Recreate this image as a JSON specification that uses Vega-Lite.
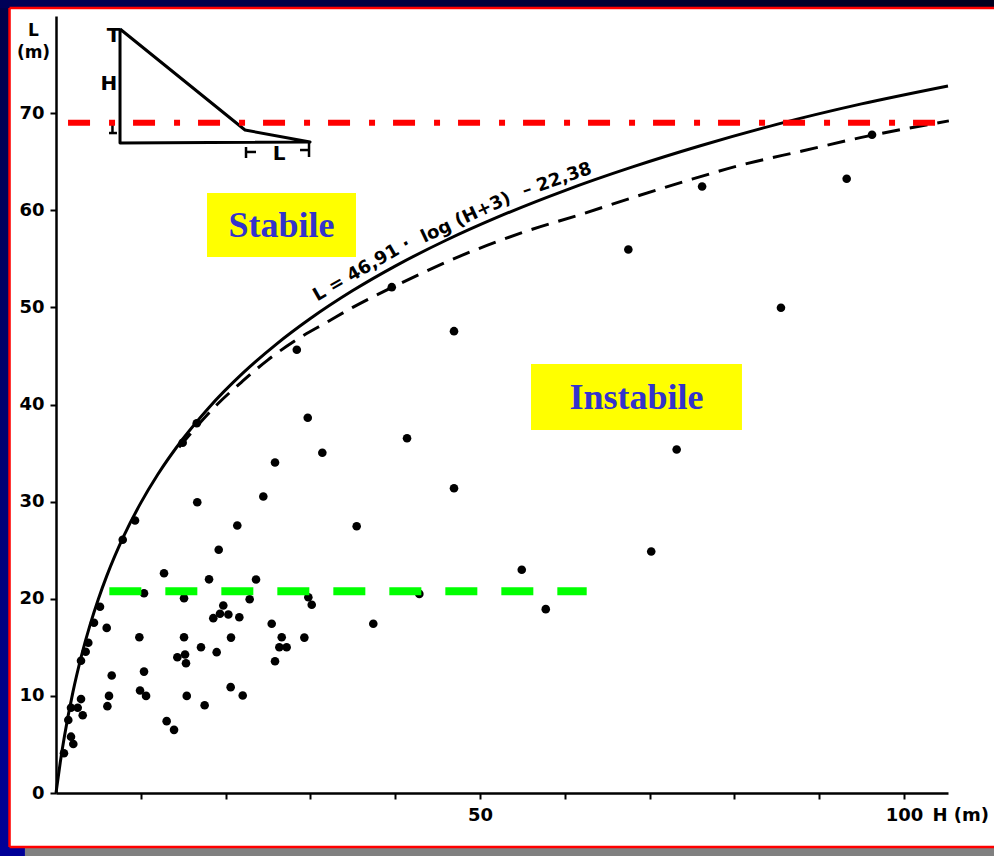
{
  "$schema": "https://vega.github.io/schema/vega-lite/v6.json",
  "width": 892,
  "height": 777,
  "autosize": "none",
  "padding": {"left": 56, "top": 16, "right": 46, "bottom": 63},
  "background": "white",
  "view": {"stroke": null},
  "config": {"font": "DejaVu Sans", "axis": {"grid": false}},
  "datasets": {
    "dots": [
      {"H":0.94,"L":4.09},{"H":1.77,"L":5.8},{"H":2.04,"L":5.05},{"H":1.45,"L":7.52},{"H":1.77,"L":8.78},
      {"H":2.56,"L":8.78},{"H":2.95,"L":9.67},{"H":3.15,"L":8.0},{"H":2.95,"L":13.62},{"H":3.5,"L":14.55},
      {"H":3.81,"L":15.47},{"H":4.48,"L":17.53},{"H":5.19,"L":19.18},{"H":5.98,"L":17.0},{"H":6.57,"L":12.1},
      {"H":6.25,"L":10.0},{"H":6.06,"L":8.94},{"H":7.87,"L":26.07},{"H":9.32,"L":28.06},{"H":10.38,"L":20.57},
      {"H":9.83,"L":16.04},{"H":10.38,"L":12.5},{"H":9.91,"L":10.55},{"H":10.62,"L":10.0},{"H":12.74,"L":22.63},
      {"H":13.05,"L":7.4},{"H":13.92,"L":6.5},{"H":14.31,"L":13.98},{"H":15.1,"L":20.06},{"H":15.1,"L":16.04},
      {"H":15.22,"L":14.26},{"H":15.33,"L":13.36},{"H":15.42,"L":10.0},{"H":16.66,"L":29.94},{"H":17.1,"L":15.0},
      {"H":17.53,"L":9.04},{"H":18.05,"L":22.0},{"H":18.55,"L":18.0},{"H":18.95,"L":14.5},{"H":19.19,"L":25.04},
      {"H":19.34,"L":18.45},{"H":19.73,"L":19.3},{"H":20.33,"L":18.38},{"H":20.64,"L":16.0},{"H":20.6,"L":10.9},
      {"H":21.38,"L":27.54},{"H":21.62,"L":18.1},{"H":22.02,"L":10.04},{"H":22.84,"L":19.95},{"H":23.59,"L":21.98},
      {"H":25.44,"L":17.42},{"H":25.83,"L":13.57},{"H":26.62,"L":16.04},{"H":26.34,"L":15.0},{"H":27.2,"L":15.0},
      {"H":29.29,"L":16.0},{"H":29.76,"L":20.16},{"H":30.16,"L":19.38},{"H":29.69,"L":38.63},{"H":31.41,"L":35.03},
      {"H":25.83,"L":34.03},{"H":24.45,"L":30.53},{"H":14.94,"L":36.06},{"H":16.6,"L":38.07},{"H":41.4,"L":36.53},
      {"H":46.94,"L":31.38},{"H":35.46,"L":27.47},{"H":54.93,"L":22.98},{"H":42.85,"L":20.5},{"H":57.76,"L":18.93},
      {"H":37.42,"L":17.42},{"H":39.6,"L":52.08},{"H":67.5,"L":55.96},{"H":46.94,"L":47.55},{"H":28.4,"L":45.63},
      {"H":76.2,"L":62.45},{"H":96.24,"L":67.77},{"H":93.25,"L":63.24},{"H":85.5,"L":49.96},{"H":73.2,"L":35.37},
      {"H":70.2,"L":24.86}
    ],
    "curve": [
      {"H":0,"L":0},{"H":0.5,"L":3.14},{"H":1,"L":5.86},{"H":2,"L":10.41},{"H":3,"L":14.12},{"H":4,"L":17.26},
      {"H":5,"L":19.98},{"H":6,"L":22.38},{"H":8,"L":26.47},{"H":10,"L":29.87},{"H":12,"L":32.79},{"H":15,"L":36.5},
      {"H":18,"L":39.65},{"H":22,"L":43.2},{"H":26,"L":46.22},{"H":30,"L":48.85},{"H":35,"L":51.73},{"H":40,"L":54.25},
      {"H":46,"L":56.91},{"H":52,"L":59.26},{"H":60,"L":62.03},{"H":68,"L":64.46},{"H":76,"L":66.64},{"H":85,"L":68.84},
      {"H":95,"L":70.95},{"H":105.2,"L":72.8}
    ],
    "dashed": [
      {"H":14.5,"L":35.6},{"H":19,"L":40.0},{"H":22,"L":42.4},{"H":25,"L":44.6},{"H":28.8,"L":46.9},{"H":32,"L":48.5},
      {"H":35,"L":50.0},{"H":40.7,"L":52.5},{"H":48,"L":55.4},{"H":55,"L":57.7},{"H":62,"L":59.6},{"H":68,"L":61.3},
      {"H":75,"L":63.2},{"H":81,"L":64.7},{"H":88,"L":66.1},{"H":95,"L":67.5},{"H":105.3,"L":69.2}
    ],
    "inset": [
      {"o":1,"H":7.55,"L":78.66},{"o":2,"H":22.29,"L":68.26},{"o":3,"H":29.96,"L":67.03},
      {"o":4,"H":7.55,"L":66.92},{"o":5,"H":7.55,"L":78.66}
    ],
    "insetTicks": [
      {"H":22.41,"H2":22.41,"L":66.51,"L2":65.38},
      {"H":22.41,"H2":23.59,"L":66.0,"L2":66.0},
      {"H":29.84,"H2":29.84,"L":67.03,"L2":65.48},
      {"H":28.78,"H2":29.84,"L":66.2,"L2":66.2},
      {"H":6.66,"H2":6.66,"L":68.98,"L2":67.95},
      {"H":6.25,"H2":7.19,"L":67.95,"L2":67.95},
      {"H":6.37,"H2":6.96,"L":68.98,"L2":68.98}
    ],
    "insetText": [
      {"t":"T","H":6.8,"L":77.95},
      {"t":"H","H":6.25,"L":72.95},
      {"t":"L","H":26.3,"L":65.84}
    ],
    "equation": [
      {"t":"L = 46,91 ·","H":36.1,"L":53.85},
      {"t":"log (H+3)","H":48.35,"L":59.2},
      {"t":"– 22,38","H":59.1,"L":63.1}
    ],
    "regions": [
      {"label":"Stabile","H":26.6,"L":58.4,"H1":17.81,"H2":35.38,"L1":55.19,"L2":61.78},
      {"label":"Instabile","H":68.46,"L":40.67,"H1":56.02,"H2":80.9,"L1":37.37,"L2":44.17}
    ]
  },
  "layer": [
    {
      "data": {"name": "dots"},
      "mark": {"type": "circle", "size": 74, "color": "black", "opacity": 1},
      "encoding": {
        "x": {
          "field": "H", "type": "quantitative",
          "scale": {"domain": [0, 105.2], "nice": false, "zero": false},
          "axis": {
            "values": [10, 20, 30, 40, 50, 60, 70, 80, 90, 100],
            "format": "d",
            "labelExpr": "datum.value == 50 || datum.value == 100 ? datum.label : ''",
            "grid": false, "zindex": 1,
            "domainColor": "black", "domainWidth": 2.5,
            "tickColor": "black", "tickWidth": 2, "tickSize": 6,
            "labelFont": "DejaVu Sans", "labelFontWeight": "bold", "labelFontSize": 18, "labelColor": "black", "labelPadding": 7,
            "title": "H (m)", "titleFont": "DejaVu Sans", "titleFontWeight": "bold", "titleFontSize": 18, "titleColor": "black",
            "titleX": 876, "titleY": 13, "titleAlign": "left", "titleBaseline": "top"
          }
        },
        "y": {
          "field": "L", "type": "quantitative",
          "scale": {"domain": [0, 80], "nice": false, "zero": false},
          "axis": {
            "values": [0, 10, 20, 30, 40, 50, 60, 70],
            "format": "d",
            "grid": false, "zindex": 1,
            "domainColor": "black", "domainWidth": 2.5,
            "tickColor": "black", "tickWidth": 2, "tickSize": 6,
            "labelFont": "DejaVu Sans", "labelFontWeight": "bold", "labelFontSize": 18, "labelColor": "black", "labelPadding": 6,
            "title": ["L", "(m)"], "titleFont": "DejaVu Sans", "titleFontWeight": "bold", "titleFontSize": 17, "titleColor": "black",
            "titleAngle": 0, "titleX": -23, "titleY": 19, "titleAlign": "center", "titleBaseline": "alphabetic", "titleLineHeight": 22
          }
        }
      }
    },
    {
      "data": {"values": [{}]},
      "mark": {"type": "rect", "fill": {"gradient": "linear", "x1": 0, "y1": 0, "x2": 1, "y2": 0, "stops": [{"offset": 0, "color": "#000058"}, {"offset": 1, "color": "#00001e"}]}},
      "encoding": {
        "x": {"datum": -8, "type": "quantitative", "scale": {"domain": [0, 105.2], "nice": false, "zero": false}},
        "x2": {"datum": 112},
        "y": {"datum": 80.82, "type": "quantitative", "scale": {"domain": [0, 80], "nice": false, "zero": false}},
        "y2": {"datum": 84}
      }
    },
    {
      "data": {"values": [{}]},
      "mark": {"type": "rect", "fill": {"gradient": "linear", "x1": 0, "y1": 0, "x2": 0, "y2": 1, "stops": [{"offset": 0, "color": "#00004a"}, {"offset": 1, "color": "#000098"}]}},
      "encoding": {
        "x": {"datum": -8, "type": "quantitative", "scale": {"domain": [0, 105.2], "nice": false, "zero": false}},
        "x2": {"datum": -5.48},
        "y": {"datum": -8, "type": "quantitative", "scale": {"domain": [0, 80], "nice": false, "zero": false}},
        "y2": {"datum": 80.82}
      }
    },
    {
      "data": {"values": [{}]},
      "mark": {"type": "rect", "fill": "#000098"},
      "encoding": {
        "x": {"datum": -8, "type": "quantitative", "scale": {"domain": [0, 105.2], "nice": false, "zero": false}},
        "x2": {"datum": -3.66},
        "y": {"datum": -8, "type": "quantitative", "scale": {"domain": [0, 80], "nice": false, "zero": false}},
        "y2": {"datum": -5.56}
      }
    },
    {
      "data": {"values": [{}]},
      "mark": {"type": "rect", "fill": "#808080"},
      "encoding": {
        "x": {"datum": -3.66, "type": "quantitative", "scale": {"domain": [0, 105.2], "nice": false, "zero": false}},
        "x2": {"datum": 112},
        "y": {"datum": -5.6, "type": "quantitative", "scale": {"domain": [0, 80], "nice": false, "zero": false}},
        "y2": {"datum": -8}
      }
    },
    {
      "data": {"values": [{}]},
      "mark": {"type": "rule", "color": "#ff0000", "strokeWidth": 2.5},
      "encoding": {
        "x": {"datum": -5.48, "type": "quantitative", "scale": {"domain": [0, 105.2], "nice": false, "zero": false}},
        "x2": {"datum": 112},
        "y": {"datum": 80.82, "type": "quantitative", "scale": {"domain": [0, 80], "nice": false, "zero": false}}
      }
    },
    {
      "data": {"values": [{}]},
      "mark": {"type": "rule", "color": "#ff0000", "strokeWidth": 2.5},
      "encoding": {
        "x": {"datum": -5.48, "type": "quantitative", "scale": {"domain": [0, 105.2], "nice": false, "zero": false}},
        "x2": {"datum": 112},
        "y": {"datum": -5.56, "type": "quantitative", "scale": {"domain": [0, 80], "nice": false, "zero": false}}
      }
    },
    {
      "data": {"values": [{}]},
      "mark": {"type": "rule", "color": "#ff0000", "strokeWidth": 2.5},
      "encoding": {
        "x": {"datum": -5.48, "type": "quantitative", "scale": {"domain": [0, 105.2], "nice": false, "zero": false}},
        "y": {"datum": -5.56, "type": "quantitative", "scale": {"domain": [0, 80], "nice": false, "zero": false}},
        "y2": {"datum": 80.82}
      }
    },
    {
      "data": {"name": "regions"},
      "mark": {"type": "rect", "fill": "#ffff00"},
      "encoding": {
        "x": {"field": "H1", "type": "quantitative", "scale": {"domain": [0, 105.2], "nice": false, "zero": false}},
        "x2": {"field": "H2"},
        "y": {"field": "L1", "type": "quantitative", "scale": {"domain": [0, 80], "nice": false, "zero": false}},
        "y2": {"field": "L2"}
      }
    },
    {
      "data": {"name": "regions"},
      "mark": {"type": "text", "font": "Liberation Serif", "fontWeight": "bold", "fontSize": 36, "color": "#3333cc", "align": "center", "baseline": "middle"},
      "encoding": {
        "x": {"field": "H", "type": "quantitative", "scale": {"domain": [0, 105.2], "nice": false, "zero": false}},
        "y": {"field": "L", "type": "quantitative", "scale": {"domain": [0, 80], "nice": false, "zero": false}},
        "text": {"field": "label"}
      }
    },
    {
      "data": {"name": "inset"},
      "mark": {"type": "line", "color": "black", "strokeWidth": 3, "strokeJoin": "round"},
      "encoding": {
        "x": {"field": "H", "type": "quantitative", "scale": {"domain": [0, 105.2], "nice": false, "zero": false}},
        "y": {"field": "L", "type": "quantitative", "scale": {"domain": [0, 80], "nice": false, "zero": false}},
        "order": {"field": "o"}
      }
    },
    {
      "data": {"name": "insetTicks"},
      "mark": {"type": "rule", "color": "black", "strokeWidth": 2.5},
      "encoding": {
        "x": {"field": "H", "type": "quantitative", "scale": {"domain": [0, 105.2], "nice": false, "zero": false}},
        "x2": {"field": "H2"},
        "y": {"field": "L", "type": "quantitative", "scale": {"domain": [0, 80], "nice": false, "zero": false}},
        "y2": {"field": "L2"}
      }
    },
    {
      "data": {"name": "insetText"},
      "mark": {"type": "text", "fontWeight": "bold", "fontSize": 20, "color": "black", "align": "center", "baseline": "middle"},
      "encoding": {
        "x": {"field": "H", "type": "quantitative", "scale": {"domain": [0, 105.2], "nice": false, "zero": false}},
        "y": {"field": "L", "type": "quantitative", "scale": {"domain": [0, 80], "nice": false, "zero": false}},
        "text": {"field": "t"}
      }
    },
    {
      "data": {"name": "equation"},
      "transform": [{"filter": "datum.t == 'L = 46,91 ·'"}],
      "mark": {"type": "text", "fontWeight": "bold", "fontSize": 18, "color": "black", "align": "center", "baseline": "middle", "angle": 330},
      "encoding": {
        "x": {"field": "H", "type": "quantitative", "scale": {"domain": [0, 105.2], "nice": false, "zero": false}},
        "y": {"field": "L", "type": "quantitative", "scale": {"domain": [0, 80], "nice": false, "zero": false}},
        "text": {"field": "t"}
      }
    },
    {
      "data": {"name": "equation"},
      "transform": [{"filter": "datum.t == 'log (H+3)'"}],
      "mark": {"type": "text", "fontWeight": "bold", "fontSize": 18, "color": "black", "align": "center", "baseline": "middle", "angle": 335},
      "encoding": {
        "x": {"field": "H", "type": "quantitative", "scale": {"domain": [0, 105.2], "nice": false, "zero": false}},
        "y": {"field": "L", "type": "quantitative", "scale": {"domain": [0, 80], "nice": false, "zero": false}},
        "text": {"field": "t"}
      }
    },
    {
      "data": {"name": "equation"},
      "transform": [{"filter": "datum.t == '– 22,38'"}],
      "mark": {"type": "text", "fontWeight": "bold", "fontSize": 18, "color": "black", "align": "center", "baseline": "middle", "angle": 341},
      "encoding": {
        "x": {"field": "H", "type": "quantitative", "scale": {"domain": [0, 105.2], "nice": false, "zero": false}},
        "y": {"field": "L", "type": "quantitative", "scale": {"domain": [0, 80], "nice": false, "zero": false}},
        "text": {"field": "t"}
      }
    },
    {
      "data": {"name": "curve"},
      "mark": {"type": "line", "color": "black", "strokeWidth": 3, "interpolate": "monotone"},
      "encoding": {
        "x": {"field": "H", "type": "quantitative", "scale": {"domain": [0, 105.2], "nice": false, "zero": false}},
        "y": {"field": "L", "type": "quantitative", "scale": {"domain": [0, 80], "nice": false, "zero": false}}
      }
    },
    {
      "data": {"name": "dashed"},
      "mark": {"type": "line", "color": "black", "strokeWidth": 3, "interpolate": "monotone", "strokeDash": [18, 10]},
      "encoding": {
        "x": {"field": "H", "type": "quantitative", "scale": {"domain": [0, 105.2], "nice": false, "zero": false}},
        "y": {"field": "L", "type": "quantitative", "scale": {"domain": [0, 80], "nice": false, "zero": false}}
      }
    },
    {
      "data": {"values": [{}]},
      "mark": {"type": "rule", "color": "#ff0000", "strokeWidth": 6, "strokeDash": [22, 19, 6, 18]},
      "encoding": {
        "x": {"datum": 1.42, "type": "quantitative", "scale": {"domain": [0, 105.2], "nice": false, "zero": false}},
        "x2": {"datum": 103.9},
        "y": {"datum": 69, "type": "quantitative", "scale": {"domain": [0, 80], "nice": false, "zero": false}}
      }
    },
    {
      "data": {"values": [{}]},
      "mark": {"type": "rule", "color": "#00ff00", "strokeWidth": 8, "strokeDash": [32, 24]},
      "encoding": {
        "x": {"datum": 6.29, "type": "quantitative", "scale": {"domain": [0, 105.2], "nice": false, "zero": false}},
        "x2": {"datum": 62.59},
        "y": {"datum": 20.78, "type": "quantitative", "scale": {"domain": [0, 80], "nice": false, "zero": false}}
      }
    }
  ]
}
